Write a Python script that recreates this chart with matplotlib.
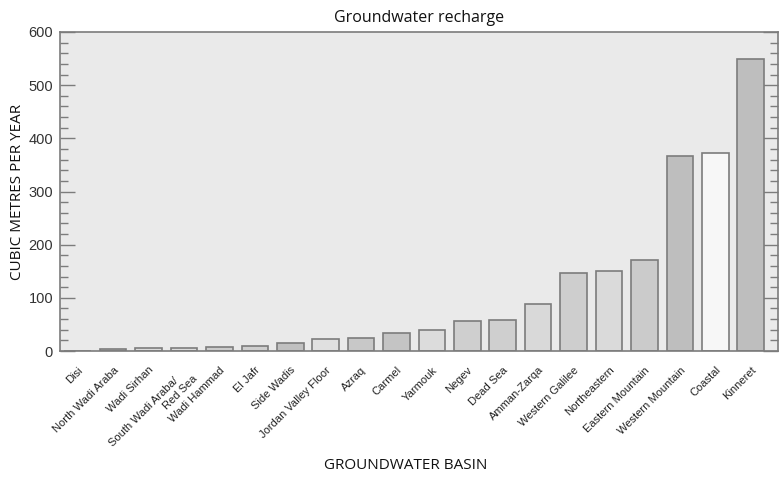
import matplotlib

matplotlib.use("Agg")
import matplotlib.pyplot as plt
from matplotlib.ticker import MultipleLocator

# Annual recharge per groundwater basin, ascending order.
basins = [
    "Disi", "North Wadi Araba", "Wadi Sirhan", "South Wadi Araba/     \nRed Sea",
    "Wadi Hammad", "El Jafr", "Side Wadis", "Jordan Valley Floor", "Azraq",
    "Carmel", "Yarmouk", "Negev", "Dead Sea", "Amman-Zarqa",
    "Western Galilee", "Northeastern", "Eastern Mountain",
    "Western Mountain", "Coastal", "Kinneret",
]
recharge = [0, 4, 5, 6, 8, 9, 16, 22, 25, 34, 40, 56, 58, 88,
            147, 151, 171, 367, 372, 550]
shades = [
    "#d0d0d0", "#c8c8c8", "#dcdcdc", "#dcdcdc", "#cccccc", "#cfcfcf",
    "#c0c0c0", "#e0e0e0", "#c8c8c8", "#c4c4c4", "#dcdcdc", "#cfcfcf",
    "#cfcfcf", "#d9d9d9", "#cecece", "#dadada", "#cbcbcb", "#bebebe",
    "#f7f7f7", "#bebebe",
]

EDGE = "#7c7c7c"
LABEL_FONT = ["Open Sans", "DejaVu Sans"]
TICK_FONT = ["Liberation Sans Narrow", "Liberation Sans", "DejaVu Sans"]

fig = plt.figure(figsize=(7.83, 4.79), dpi=100)
ax = fig.add_axes([0.0766, 0.2672, 0.9166, 0.666])
ax.set_facecolor("#eaeaea")

x = list(range(len(basins)))
ax.bar(x, recharge, width=0.75, color=shades, edgecolor=EDGE, linewidth=1.2,
       zorder=2)

ax.set_xlim(-0.5, 19.76)
ax.set_ylim(0, 600)
ax.yaxis.set_major_locator(MultipleLocator(100))
ax.yaxis.set_minor_locator(MultipleLocator(20))
ax.tick_params(axis="y", which="major", direction="in", length=11, width=1,
               color=EDGE, right=True, labelsize=10.5, labelcolor="#333333",
               pad=5)
ax.tick_params(axis="y", which="minor", direction="in", length=5.5, width=1,
               color=EDGE, right=True)
ax.tick_params(axis="x", length=0, pad=10)

ax.set_xticks(x)
ax.set_xticklabels(basins, rotation=45, ha="right", rotation_mode="anchor",
                   fontsize=8, color="#222222",
                   family=["Liberation Sans", "DejaVu Sans"],
                   multialignment="right")
for lbl in ax.get_yticklabels():
    lbl.set_family(TICK_FONT)

for spine in ax.spines.values():
    spine.set_color(EDGE)
    spine.set_linewidth(1.2)

ax.set_title("Groundwater recharge", fontsize=11.5, family=LABEL_FONT,
             color="#111111", pad=7)
ax.set_ylabel("CUBIC METRES PER YEAR", fontsize=11, family=LABEL_FONT,
              color="#111111")
ax.yaxis.set_label_coords(-0.049, 0.5)
fig.text(0.518, 0.029, "GROUNDWATER BASIN", ha="center", va="center",
         fontsize=11, family=LABEL_FONT, color="#111111")

fig.savefig("out.png", dpi=100)
